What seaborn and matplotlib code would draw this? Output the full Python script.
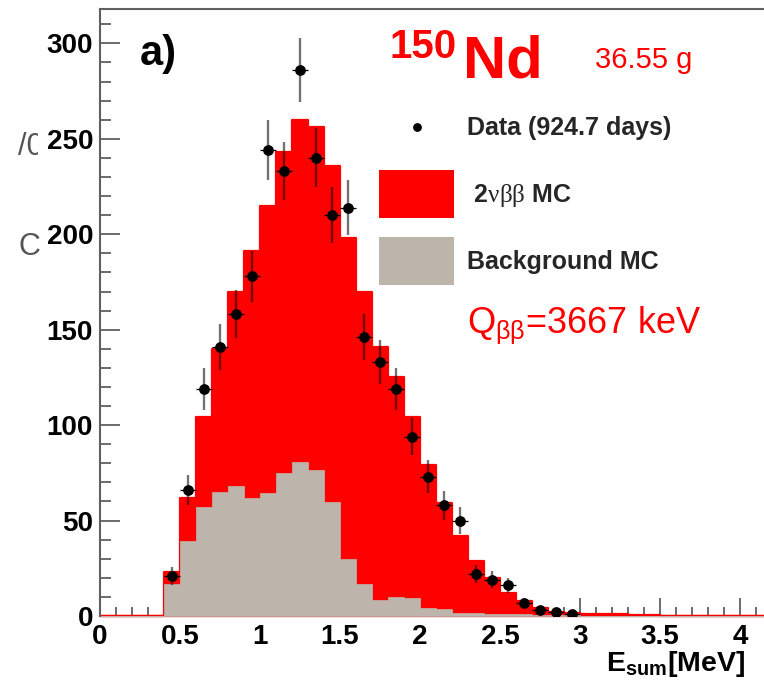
import numpy as np
import pandas as pd
import matplotlib
matplotlib.use("Agg")
import matplotlib.pyplot as plt
import seaborn as sns
from matplotlib.patches import Patch
from matplotlib.transforms import Bbox
from matplotlib.ticker import MultipleLocator, FuncFormatter

# ---------------- data ----------------
bin_edges = [round(0.1 * i, 2) for i in range(44)]          # 0.1 MeV bins, 0 .. 4.3
total_mc = [0, 0, 0, 0, 23, 62, 104, 140, 170, 191,
            215, 243, 260, 256, 236, 198, 170, 141, 125, 104,
            79, 59, 42, 29, 20, 12, 8, 4, 2.3, 1.4,
            1.0, 1.0, 1.0, 0.5, 0.5, 0, 0, 0, 0, 0,
            0, 0, 0]
background_mc = [0, 0, 0, 0, 16.6, 39.4, 57, 65, 68, 62,
                 64.5, 75, 80.5, 76.5, 59.5, 30, 17, 8.5, 10, 9.5,
                 4, 3.5, 1.8, 1.5, 1.2, 1.0, 0.8, 0.6, 0.5, 0.4,
                 0, 0, 0, 0, 0, 0, 0, 0, 0, 0,
                 0, 0, 0]
data_energy = [0.45, 0.55, 0.65, 0.75, 0.85, 0.95, 1.05, 1.15, 1.25, 1.35,
               1.45, 1.55, 1.65, 1.75, 1.85, 1.95, 2.05, 2.15, 2.25, 2.35,
               2.45, 2.55, 2.65, 2.75, 2.85, 2.95]
data_counts = [21, 66, 119, 141, 158, 178, 244, 233, 286, 240,
               210, 214, 146, 133, 119, 94, 73, 58, 50, 22,
               19, 16, 7, 3, 2, 1]
data_err = [4.6, 8.1, 10.9, 11.9, 12.6, 13.3, 15.6, 15.3, 16.9, 15.5,
            14.5, 14.6, 12.1, 11.5, 10.9, 9.7, 8.5, 7.6, 7.1, 4.7,
            4.4, 4.0, 2.6, 1.7, 1.4, 1.0]
legend_labels = ["Data (924.7 days)", r" 2$\mathrm{\nu\beta\beta}$ MC", "Background MC"]

# ---------------- style ----------------
sns.set_style("white")
plt.rcParams["font.family"] = ["Liberation Sans", "DejaVu Sans"]
plt.rcParams["font.weight"] = "bold"
plt.rcParams["mathtext.fontset"] = "custom"
plt.rcParams["mathtext.rm"] = "Liberation Serif:weight=normal"
plt.rcParams["mathtext.sf"] = "Liberation Sans:weight=normal"
plt.rcParams["mathtext.it"] = "Liberation Sans:italic:weight=normal"
plt.rcParams["mathtext.bf"] = "Liberation Sans:bold"

RED = "#ff0000"
GREY = "#bdb5ac"
AXC = "#606060"

W, H = 764, 680
fig = plt.figure(figsize=(W / 100, H / 100), dpi=100)
ax = fig.add_axes([100 / W, (H - 616) / H, 4.3 * 160 / W, (616 - 9) / H])

centers = [round(e + 0.05, 3) for e in bin_edges[:-1]]
df = pd.DataFrame({"E": centers, "total": total_mc, "bkg": background_mc})

sns.histplot(data=df, x="E", weights="total", bins=bin_edges, element="step",
             fill=True, color=RED, alpha=1, edgecolor=RED, linewidth=1.6, ax=ax)
sns.histplot(data=df, x="E", weights="bkg", bins=bin_edges, element="step",
             fill=True, color=GREY, alpha=1, edgecolor=GREY, linewidth=0.5, ax=ax)
for c in ax.collections:
    c.set_clip_on(False)

# data points with errors
ax.errorbar(data_energy, data_counts, yerr=data_err, fmt="none",
            ecolor=(0, 0, 0, 0.55), elinewidth=1.7, zorder=4)
ax.errorbar(data_energy, data_counts, xerr=0.05, fmt="none",
            ecolor="black", elinewidth=0.9, zorder=4)
sns.scatterplot(x=data_energy, y=data_counts, color="black", s=60,
                edgecolor="black", linewidth=0, zorder=5, ax=ax, legend=False)

ax.set_xlim(0, 4.3)
ax.set_ylim(0, 318)
ax.set_xlabel("")
ax.set_ylabel("")

ax.xaxis.set_major_locator(MultipleLocator(0.5))
ax.xaxis.set_minor_locator(MultipleLocator(0.1))
ax.yaxis.set_major_locator(MultipleLocator(50))
ax.yaxis.set_minor_locator(MultipleLocator(10))
ax.xaxis.set_major_formatter(FuncFormatter(lambda v, p: f"{v:g}"))
ax.yaxis.set_major_formatter(FuncFormatter(lambda v, p: f"{v:g}"))

ax.tick_params(axis="both", which="both", direction="in", color=AXC,
               bottom=True, left=True, top=False, right=False,
               labelsize=20, labelcolor="black")
ax.tick_params(axis="x", which="major", length=13, width=1.3, pad=5.5)
ax.tick_params(axis="x", which="minor", length=6.5, width=1.3)
ax.tick_params(axis="y", which="major", length=14.5, width=1.3, pad=5)
ax.tick_params(axis="y", which="minor", length=8, width=1.3)

for side in ["left", "bottom", "top"]:
    ax.spines[side].set_color(AXC)
    ax.spines[side].set_linewidth(1.5)
ax.spines["right"].set_visible(False)
ax.spines["bottom"].set_zorder(0.5)

# legend
data_handle = ax.scatter([], [], s=40, color="black", linewidths=0)
handles = [data_handle,
           Patch(facecolor=RED, edgecolor="none"),
           Patch(facecolor=GREY, edgecolor="none")]
ax.legend(handles, legend_labels, loc="upper left",
          bbox_to_anchor=(379 / W, 1 - 103 / H), bbox_transform=fig.transFigure,
          frameon=False, borderpad=0, borderaxespad=0, handlelength=3.0,
          handleheight=2.577, handletextpad=0.52, labelspacing=0.76,
          scatterpoints=1, scatteryoffsets=[0.15],
          prop={"size": 18, "weight": "bold"})


def fx(x, y):
    return x / W, 1 - y / H


fig.text(*fx(140, 65), "a)", fontsize=30, weight="bold", color="black", va="baseline")
fig.text(*fx(390, 58), "150", fontsize=29, weight="bold", color=RED, va="baseline")
fig.text(*fx(463, 78), "Nd", fontsize=43, weight="bold", color=RED, va="baseline")
fig.text(*fx(595, 68), "36.55 g", fontsize=21, weight="normal", color=RED, va="baseline")
fig.text(*fx(467, 333), r"Q$_{\mathsf{\beta\beta}}$=3667 keV", fontsize=26,
         weight="normal", color=RED, va="baseline")
fig.text(*fx(745, 671), r"E$_{\mathbf{sum}}$[MeV]", fontsize=20.5, weight="bold",
         color="black", ha="right", va="baseline")

# fragments of a clipped label on the far left
fig.text(*fx(18, 255), "C", fontsize=22, weight="normal", color="#555555", va="baseline")
t = fig.text(*fx(18, 155), "/0", fontsize=22, weight="normal", color="#555555", va="baseline")
t.set_clip_box(Bbox([[0, 0], [38, H]]))
t.set_clip_on(True)

fig.savefig("out.png", dpi=100)
